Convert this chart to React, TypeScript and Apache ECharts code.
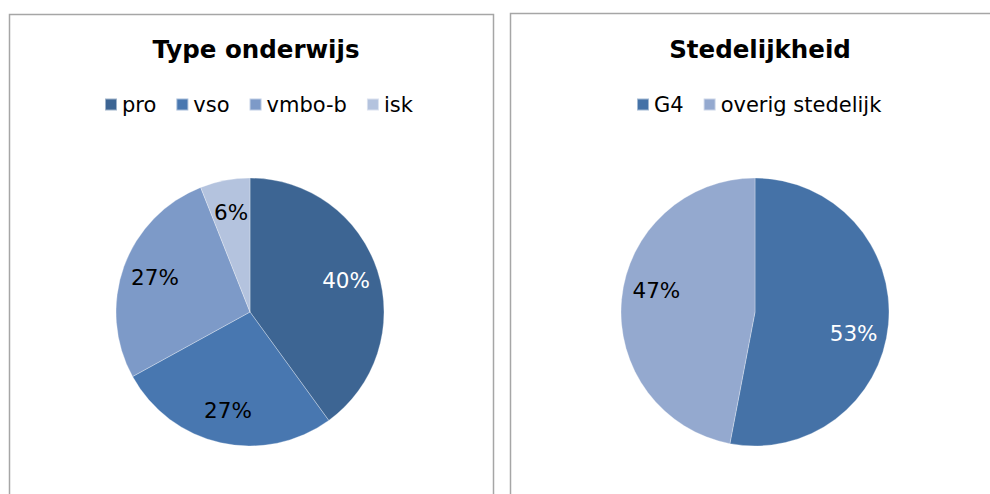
import React, { useEffect, useRef } from "react";
import * as echarts from "echarts";

const typeNames = ["pro", "vso", "vmbo-b", "isk"];
const typeValues = [40, 27, 27, 6];
const cityNames = ["G4", "overig stedelijk"];
const cityValues = [53, 47];

const typeColors = ["#3D6593", "#4877B0", "#7D9AC8", "#B4C3DE"];
const typeLabelColors = ["#FFFFFF", "#000000", "#000000", "#000000"];
const cityColors = ["#4572A7", "#94A9CF"];
const cityLabelColors = ["#FFFFFF", "#000000"];

const FONT = 'Verdana, "DejaVu Sans", sans-serif';

function mainData(names: string[], values: number[], colors: string[]) {
  return names.map((n, i) => ({ name: n, value: values[i], itemStyle: { color: colors[i] } }));
}
function labelData(names: string[], values: number[], labelColors: string[]) {
  return names.map((n, i) => ({
    name: n,
    value: values[i],
    itemStyle: { color: "rgba(0,0,0,0)" },
    label: { color: labelColors[i] },
  }));
}

export default function App() {
  const ref = useRef<HTMLDivElement>(null);
  useEffect(() => {
    if (!ref.current) return;
    const chart = echarts.init(ref.current, undefined, { renderer: "svg" });
    const pieBase = {
      type: "pie",
      startAngle: 90,
      clockwise: true,
      silent: true,
      animation: false,
    };
    const mainStyle = {
      ...pieBase,
      label: { show: false },
      labelLine: { show: false },
      itemStyle: { borderColor: "rgba(255,255,255,0.5)", borderWidth: 0.6 },
    };
    const labelStyle = {
      ...pieBase,
      label: {
        show: true,
        position: "inside",
        fontFamily: FONT,
        fontSize: 21.5,
        formatter: (p: any) => `${p.value}%`,
      },
      labelLine: { show: false },
      emphasis: { disabled: true },
      legendHoverLink: false,
    };
    const legendCommon = {
      top: 94,
      padding: 0,
      itemWidth: 12,
      itemHeight: 12,
      itemGap: 19,
      itemTextGap: 5,
      icon: "rect",
      selectedMode: false,
      textStyle: { fontFamily: FONT, fontSize: 21, color: "#000" },
    };
    const titleStyle = { fontFamily: FONT, fontSize: 24.5, fontWeight: "bold", color: "#000" };
    chart.setOption({
      animation: false,
      title: [
        { text: "Type onderwijs", left: 251, top: 32, textAlign: "center", textStyle: titleStyle },
        { text: "Stedelijkheid", left: 755, top: 32, textAlign: "center", textStyle: titleStyle },
      ],
      legend: [
        { ...legendCommon, data: typeNames, left: 104 },
        { ...legendCommon, data: cityNames, left: 636 },
      ],
      graphic: [
        {
          type: "rect",
          shape: { x: 9.5, y: 14.5, width: 484, height: 520 },
          style: { fill: "none", stroke: "#A6A6A6", lineWidth: 1.5 },
          z: -10,
        },
        {
          type: "rect",
          shape: { x: 510.5, y: 13.5, width: 520, height: 520 },
          style: { fill: "none", stroke: "#A6A6A6", lineWidth: 1.5 },
          z: -10,
        },
      ],
      series: [
        {
          ...mainStyle,
          center: [250, 312],
          radius: [0, 134],
          data: mainData(typeNames, typeValues, typeColors),
        },
        {
          ...labelStyle,
          center: [250, 312],
          radius: [62, 134],
          data: labelData(typeNames, typeValues, typeLabelColors),
        },
        {
          ...mainStyle,
          center: [755, 312],
          radius: [0, 134],
          data: mainData(cityNames, cityValues, cityColors),
        },
        {
          ...labelStyle,
          startAngle: 83,
          center: [755, 312],
          radius: [62, 134],
          data: labelData(cityNames, cityValues, cityLabelColors),
        },
      ],
    });
    return () => chart.dispose();
  }, []);
  return (
    <div
      ref={ref}
      style={{ position: "fixed", left: 0, top: 0, width: 990, height: 494, background: "#fff" }}
    />
  );
}
